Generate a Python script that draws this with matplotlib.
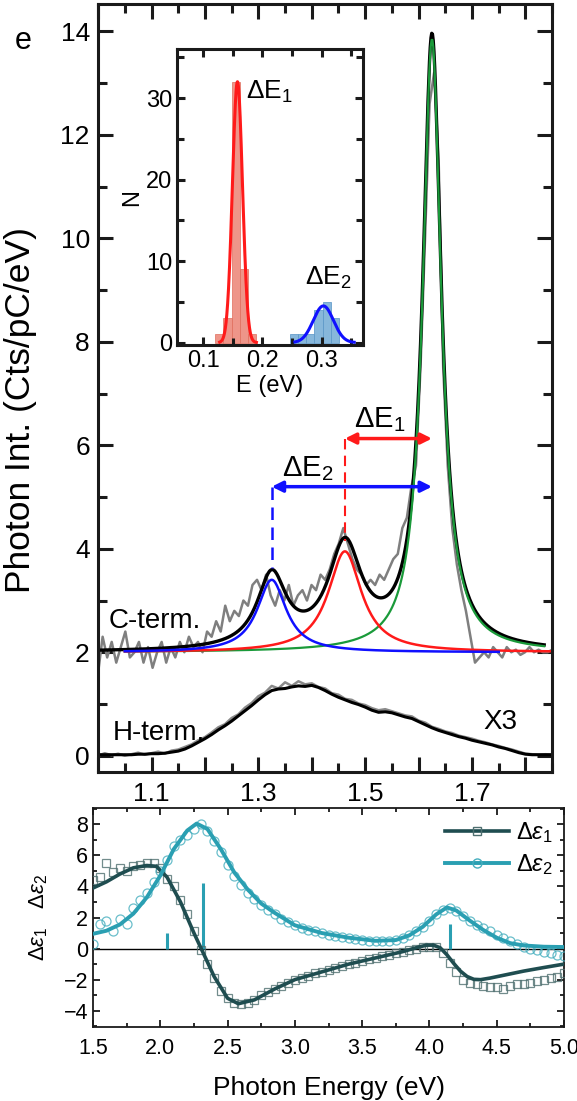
import numpy as np
import matplotlib
matplotlib.use("Agg")
import matplotlib.pyplot as plt
from matplotlib.ticker import MultipleLocator, FuncFormatter

plt.rcParams['font.family'] = ['Liberation Sans', 'DejaVu Sans']
plt.rcParams['mathtext.fontset'] = 'custom'
plt.rcParams['mathtext.rm'] = 'Liberation Sans'
plt.rcParams['mathtext.it'] = 'Liberation Sans:italic'
plt.rcParams['mathtext.bf'] = 'Liberation Sans:bold'

# ---- C-terminated spectrum (raw counts, eV grid 1.00 -> 1.85)
c_term_raw = [1.6, 2.3, 1.9, 2.2, 1.8, 2.1, 2.4, 1.9, 2.0, 2.2,
              1.8, 2.1, 1.7, 2.0, 2.2, 1.8, 2.1, 1.9, 2.2, 2.0,
              2.3, 2.1, 2.2, 2.0, 2.4, 2.3, 2.6, 2.4, 2.9, 2.6,
              2.8, 2.7, 3.0, 2.9, 3.3, 3.4, 3.2, 3.5, 3.1, 2.9,
              3.2, 3.0, 3.3, 2.9, 3.1, 3.2, 3.0, 3.3, 3.2, 3.5,
              3.4, 3.6, 3.9, 4.1, 4.4, 4.1, 3.8, 3.6, 3.5, 3.3,
              3.4, 3.3, 3.5, 3.4, 3.6, 3.8, 3.9, 4.4, 4.6, 5.2,
              5.6, 7.5, 10.0, 12.6, 13.2, 11.5, 7.5, 5.6, 4.4, 3.7,
              3.2, 2.8, 2.3, 1.8, 1.9, 2.0, 1.9, 2.1, 2.0, 1.9,
              2.1, 2.0, 2.05, 1.95, 2.0, 2.1, 2.0, 2.05, 2.0, 2.0,
              2.05]

# Lorentzian components of the C-term fit: (centre eV, height, HWHM eV)
baseline = 2.0
peak_blue = (1.325, 1.40, 0.033)
peak_red = (1.462, 1.95, 0.038)
peak_green = (1.625, 11.85, 0.021)

# ---- H-terminated spectrum (x3), raw and smoothed, eV grid 1.00 -> 1.85
h_term_raw = [0.00, 0.05, 0.01, 0.04, 0.00, 0.03, 0.06, 0.02, 0.05, 0.08,
              0.04, 0.10, 0.12, 0.17, 0.22, 0.30, 0.36, 0.45, 0.55, 0.61,
              0.73, 0.80, 0.93, 1.02, 1.15, 1.22, 1.35, 1.30, 1.42, 1.35,
              1.44, 1.38, 1.40, 1.33, 1.30, 1.21, 1.18, 1.10, 1.08, 1.01,
              0.98, 0.92, 0.88, 0.90, 0.86, 0.82, 0.78, 0.76, 0.68, 0.64,
              0.56, 0.52, 0.47, 0.44, 0.39, 0.36, 0.33, 0.29, 0.26, 0.22,
              0.19, 0.15, 0.12, 0.08, 0.04, 0.03, 0.02, 0.03, 0.02]
h_term_smooth = [0.02, 0.02, 0.02, 0.02, 0.02, 0.02, 0.03, 0.03, 0.04, 0.04,
                 0.05, 0.07, 0.09, 0.13, 0.19, 0.26, 0.33, 0.41, 0.50, 0.58,
                 0.67, 0.77, 0.87, 0.97, 1.08, 1.18, 1.26, 1.29, 1.30, 1.33,
                 1.35, 1.34, 1.36, 1.32, 1.26, 1.19, 1.13, 1.08, 1.03, 0.99,
                 0.94, 0.88, 0.84, 0.85, 0.83, 0.79, 0.75, 0.72, 0.66, 0.60,
                 0.54, 0.49, 0.45, 0.41, 0.37, 0.34, 0.30, 0.27, 0.24, 0.21,
                 0.17, 0.14, 0.10, 0.06, 0.03, 0.02, 0.02, 0.02, 0.02]

# ---- inset histograms of peak splittings
hist_edges = [0.120, 0.134, 0.148, 0.162, 0.176, 0.190]
hist_counts_1 = [1, 3, 32, 9, 1]
hist_edges_2 = [0.246, 0.260, 0.274, 0.288, 0.302, 0.316, 0.330]
hist_counts_2 = [1, 1, 1, 4, 5, 3]
gauss_1 = (0.158, 32.0, 0.0085)   # centre, height, sigma
gauss_2 = (0.303, 4.5, 0.017)

# ---- dielectric function changes
eps_fit_e1 = [1.5, 1.6, 1.7, 1.8, 1.9, 1.97, 2.05, 2.15, 2.25, 2.32, 2.4, 2.5,
              2.58, 2.7, 2.85, 3.0, 3.2, 3.4, 3.6, 3.8, 3.92, 3.98, 4.03, 4.08,
              4.13, 4.18, 4.23, 4.28, 4.33, 4.38, 4.45, 4.55, 4.7, 4.85, 5.0]
eps1_fit = [3.9, 4.3, 4.8, 5.2, 5.35, 5.3, 4.6, 3.0, 1.0, -0.3, -1.8, -3.2,
            -3.55, -3.3, -2.6, -2.0, -1.5, -1.0, -0.6, -0.2, 0.1, 0.22, 0.22, 0.05,
            -0.4, -0.95, -1.45, -1.8, -1.98, -2.0, -1.9, -1.72, -1.45, -1.22, -1.0]
eps_fit_e2 = [1.5, 1.6, 1.7, 1.8, 1.9, 2.0, 2.1, 2.2, 2.27, 2.35, 2.45, 2.55,
              2.65, 2.75, 2.85, 3.0, 3.2, 3.4, 3.6, 3.75, 3.85, 3.95, 4.05, 4.13,
              4.2, 4.3, 4.4, 4.5, 4.6, 4.7, 4.85, 5.0]
eps2_fit = [0.95, 1.15, 1.55, 2.25, 3.3, 4.7, 6.4, 7.6, 8.05, 7.7, 6.4, 4.9,
            3.8, 2.9, 2.3, 1.5, 1.0, 0.7, 0.5, 0.55, 0.85, 1.4, 2.2, 2.65,
            2.45, 1.8, 1.2, 0.7, 0.35, 0.2, 0.12, 0.1]
# measured points, 1.50 -> 5.00 eV in 0.05 eV steps
eps1_data = [4.4, 4.6, 5.5, 4.9, 5.2, 5.0, 5.3, 5.4, 5.5, 5.5, 5.2,
             4.5, 4.0, 3.1, 2.2, 1.1, -0.1, -1.0, -1.9, -2.7, -3.2,
             -3.5, -3.6, -3.5, -3.3, -3.0, -2.8, -2.6, -2.4, -2.2, -2.0,
             -1.9, -1.75, -1.6, -1.5, -1.4, -1.25, -1.15, -1.0, -0.9, -0.8,
             -0.7, -0.6, -0.5, -0.4, -0.3, -0.2, -0.1, 0.0, 0.1, 0.1,
             0.1, -0.3, -0.9, -1.5, -2.0, -2.2, -2.3, -2.4, -2.45, -2.5,
             -2.6, -2.4, -2.3, -2.3, -2.2, -2.1, -2.0, -1.9, -1.8, -1.6]
eps2_data = [0.3, 1.6, 1.8, 1.1, 1.9, 1.6, 2.6, 3.1, 3.6, 4.3, 5.0,
             5.7, 6.6, 7.0, 7.3, 7.7, 8.0, 7.6, 6.9, 6.2, 5.4,
             4.7, 4.1, 3.6, 3.2, 2.8, 2.5, 2.2, 1.9, 1.7, 1.5,
             1.35, 1.2, 1.1, 1.0, 0.9, 0.8, 0.75, 0.65, 0.6, 0.55,
             0.5, 0.5, 0.5, 0.5, 0.55, 0.65, 0.85, 1.1, 1.4, 1.8,
             2.2, 2.5, 2.6, 2.4, 2.1, 1.8, 1.5, 1.3, 1.1, 0.9,
             0.7, 0.5, 0.3, 0.1, 0.0, -0.1, -0.2, -0.3, -0.4, -0.5]
# transition strengths (position eV, height)
stick_pos = [2.05, 2.32, 4.15]
stick_height = [1.0, 4.2, 1.6]

col_e1 = '#1f4d50'
col_e2 = '#2a9fb2'


def lorentz(x, p):
    x0, amp, g = p
    return amp / (1.0 + ((x - x0) / g) ** 2)


def style_axis(a, lw, maj, mino, size):
    for s in a.spines.values():
        s.set_linewidth(lw)
        s.set_color('#1a1a1a')
    a.tick_params(which='both', direction='in', top=True, right=True,
                  width=lw, labelsize=size, color='#1a1a1a')
    a.tick_params(which='major', length=maj)
    a.tick_params(which='minor', length=mino)


fig = plt.figure(figsize=(5.77, 11.01), dpi=100)

# ---------------- main spectrum panel
ax = fig.add_axes([0.170, 0.299, 0.787, 0.697])
x_c = np.linspace(1.0, 1.85, len(c_term_raw))
x_h = np.linspace(1.0, 1.85, len(h_term_raw))
ax.plot(x_c, c_term_raw, color='#7f7f7f', lw=1.8)
ax.plot(x_h, h_term_raw, color='#8a8a8a', lw=1.8)
ax.plot(x_h, h_term_smooth, color='black', lw=2.2)

x_fit = np.linspace(1.0, 1.835, 600)
total = baseline + lorentz(x_fit, peak_blue) + lorentz(x_fit, peak_red) + lorentz(x_fit, peak_green)
ax.plot(x_fit, total, color='black', lw=2.4)
xg = np.linspace(1.05, 1.835, 500)
ax.plot(xg, baseline + lorentz(xg, peak_green), color='#1a9a3a', lw=1.6)
xr = np.linspace(1.05, 1.85, 500)
ax.plot(xr, baseline + lorentz(xr, peak_red), color='#ff1a1a', lw=1.8)
xb = np.linspace(1.05, 1.75, 500)
ax.plot(xb, baseline + lorentz(xb, peak_blue), color='#1010ff', lw=1.8)

# splitting arrows and guides
y_arr1, y_arr2 = 6.13, 5.2
ax.annotate('', xy=(peak_green[0], y_arr1), xytext=(peak_red[0], y_arr1),
            arrowprops=dict(arrowstyle='<|-|>', color='#ff1a1a', lw=2.5, mutation_scale=16,
                            shrinkA=0, shrinkB=0))
ax.annotate('', xy=(peak_green[0], y_arr2), xytext=(peak_blue[0], y_arr2),
            arrowprops=dict(arrowstyle='<|-|>', color='#1010ff', lw=2.5, mutation_scale=16,
                            shrinkA=0, shrinkB=0))
ax.plot([peak_red[0]] * 2, [y_arr1, 4.15], color='#ff1a1a', lw=1.5, ls=(0, (5, 3)))
ax.plot([peak_blue[0]] * 2, [y_arr2, 3.62], color='#1010ff', lw=1.8, ls=(0, (5, 3)))
ax.text(1.527, 6.5, r'$\mathrm{\Delta E}_1$', fontsize=21, ha='center', va='center')
ax.text(1.393, 5.55, r'$\mathrm{\Delta E}_2$', fontsize=21, ha='center', va='center')
ax.text(1.106, 2.6, 'C-term.', fontsize=20, ha='center', va='center')
ax.text(1.113, 0.44, 'H-term.', fontsize=20, ha='center', va='center', zorder=5)
ax.text(1.753, 0.66, 'X3', fontsize=20, ha='center', va='center')

ax.set_xlim(1.0, 1.85)
ax.set_ylim(-0.31, 14.52)
ax.xaxis.set_major_locator(MultipleLocator(0.1))
ax.xaxis.set_minor_locator(MultipleLocator(0.05))
ax.xaxis.set_major_formatter(FuncFormatter(
    lambda v, p: f'{v:.1f}' if round(v * 10) % 2 == 1 else ''))
ax.yaxis.set_major_locator(MultipleLocator(2))
ax.yaxis.set_minor_locator(MultipleLocator(1))
style_axis(ax, 2.2, 11, 6.5, 19)
ax.tick_params(axis='x', pad=7)
ax.tick_params(axis='y', pad=6)
ax.set_ylabel('Photon Int. (Cts/pC/eV)', fontsize=25.5)
ax.yaxis.set_label_coords(-0.135, 0.472)
fig.text(0.040, 0.963, 'e', fontsize=22, ha='center', va='center')

# ---------------- inset histogram
axin = fig.add_axes([0.3068, 0.6866, 0.3224, 0.2688])
axin.bar(hist_edges[:-1], hist_counts_1, width=np.diff(hist_edges), align='edge',
         color='#ec8375', alpha=0.85, edgecolor='#e0705f', lw=0.6)
axin.bar(hist_edges_2[:-1], hist_counts_2, width=np.diff(hist_edges_2), align='edge',
         color='#7aafd8', alpha=0.9, edgecolor='#5d98c8', lw=0.6)
xe1 = np.linspace(0.128, 0.19, 300)
axin.plot(xe1, gauss_1[1] * np.exp(-0.5 * ((xe1 - gauss_1[0]) / gauss_1[2]) ** 2),
          color='#ff1a1a', lw=2.2)
xe2 = np.linspace(0.255, 0.355, 300)
axin.plot(xe2, gauss_2[1] * np.exp(-0.5 * ((xe2 - gauss_2[0]) / gauss_2[2]) ** 2),
          color='#1010ff', lw=2.2)
axin.text(0.173, 30.8, r'$\mathrm{\Delta E}_1$', fontsize=19, ha='left', va='center')
axin.text(0.312, 7.9, r'$\mathrm{\Delta E}_2$', fontsize=19, ha='center', va='center')
axin.set_xlim(0.056, 0.37)
axin.set_ylim(-0.3, 36)
axin.xaxis.set_major_locator(MultipleLocator(0.1))
axin.xaxis.set_minor_locator(MultipleLocator(0.05))
axin.yaxis.set_major_locator(MultipleLocator(10))
axin.yaxis.set_minor_locator(MultipleLocator(5))
style_axis(axin, 2.2, 6, 5, 17)
axin.set_xlabel('E (eV)', fontsize=17, labelpad=2)
axin.set_ylabel('N', fontsize=17, labelpad=2)

# ---------------- dielectric function panel
ax2 = fig.add_axes([0.1612, 0.0672, 0.8163, 0.1989])
x_d = np.linspace(1.5, 5.0, len(eps1_data))
ax2.axhline(0, color='black', lw=1.0, zorder=1)
ax2.vlines(stick_pos, 0, stick_height, color=col_e2, lw=2.2, zorder=2)
ax2.plot(x_d, eps1_data, ls='none', marker='s', ms=6, mfc='none', mec='#4f6f70',
         mew=0.9, alpha=0.8, zorder=3)
ax2.plot(x_d, eps2_data, ls='none', marker='o', ms=6.5, mfc='none', mec='#45aebe',
         mew=0.9, alpha=0.8, zorder=3)
ax2.plot(eps_fit_e1, eps1_fit, color=col_e1, lw=2.6, zorder=4)
ax2.plot(eps_fit_e2, eps2_fit, color=col_e2, lw=2.8, zorder=4)
h1, = ax2.plot([], [], color=col_e1, lw=2.6, marker='s', ms=6, mfc='none', mec='#4f6f70')
h2, = ax2.plot([], [], color=col_e2, lw=2.8, marker='o', ms=6.5, mfc='none', mec='#45aebe')
ax2.legend([h1, h2], [r'$\Delta\varepsilon_1$', r'$\Delta\varepsilon_2$'], loc='upper right',
           bbox_to_anchor=(1.0, 1.0), frameon=False, fontsize=17, handlelength=2.7,
           numpoints=1, labelspacing=0.3, borderaxespad=0.1, handletextpad=0.3)
ax2.set_xlim(1.5, 5.0)
ax2.set_ylim(-5.05, 9.05)
ax2.xaxis.set_major_locator(MultipleLocator(0.5))
ax2.xaxis.set_minor_locator(MultipleLocator(0.25))
ax2.yaxis.set_major_locator(MultipleLocator(2))
ax2.yaxis.set_minor_locator(MultipleLocator(1))
ax2.xaxis.set_major_formatter(FuncFormatter(lambda v, p: f'{v:.1f}'))
style_axis(ax2, 1.3, 5, 3, 15.5)
ax2.tick_params(axis='x', pad=8)
ax2.set_xlabel('Photon Energy (eV)', fontsize=19, labelpad=12)
ax2.set_ylabel(r'$\Delta\varepsilon_1$   $\Delta\varepsilon_2$', fontsize=16, labelpad=10)

fig.savefig('out.png', dpi=100)
